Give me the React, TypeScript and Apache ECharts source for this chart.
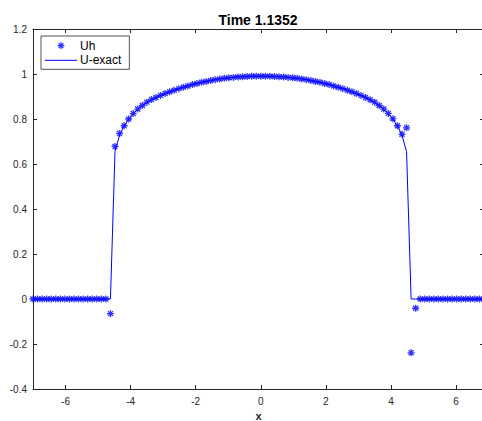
import React, { useEffect, useRef } from "react";
import * as echarts from "echarts";

const xNodes = [
  -7.0, -6.86, -6.72, -6.58, -6.44, -6.3, -6.16, -6.02, -5.88, -5.74,
  -5.6, -5.46, -5.32, -5.18, -5.04, -4.9, -4.76, -4.62, -4.48, -4.34,
  -4.2, -4.06, -3.92, -3.78, -3.64, -3.5, -3.36, -3.22, -3.08, -2.94,
  -2.8, -2.66, -2.52, -2.38, -2.24, -2.1, -1.96, -1.82, -1.68, -1.54,
  -1.4, -1.26, -1.12, -0.98, -0.84, -0.7, -0.56, -0.42, -0.28, -0.14,
  0.0, 0.14, 0.28, 0.42, 0.56, 0.7, 0.84, 0.98, 1.12, 1.26,
  1.4, 1.54, 1.68, 1.82, 1.96, 2.1, 2.24, 2.38, 2.52, 2.66,
  2.8, 2.94, 3.08, 3.22, 3.36, 3.5, 3.64, 3.78, 3.92, 4.06,
  4.2, 4.34, 4.48, 4.62, 4.76, 4.9, 5.04, 5.18, 5.32, 5.46,
  5.6, 5.74, 5.88, 6.02, 6.16, 6.3, 6.44, 6.58, 6.72, 6.86,
];

const uhValues = [
  0, 0, 0, 0, 0, 0, 0, 0, 0, 0,
  0, 0, 0, 0, 0, 0, 0, -0.065, 0.678, 0.736,
  0.77, 0.8, 0.824, 0.844, 0.86, 0.875, 0.887, 0.896, 0.905, 0.913,
  0.921, 0.928, 0.935, 0.941, 0.947, 0.953, 0.958, 0.963, 0.967, 0.971,
  0.975, 0.978, 0.981, 0.983, 0.985, 0.987, 0.988, 0.989, 0.99, 0.99,
  0.99, 0.99, 0.99, 0.989, 0.988, 0.987, 0.985, 0.983, 0.981, 0.978,
  0.975, 0.971, 0.967, 0.963, 0.958, 0.953, 0.947, 0.941, 0.935, 0.928,
  0.921, 0.913, 0.905, 0.896, 0.886, 0.875, 0.86, 0.844, 0.825, 0.801,
  0.77, 0.732, 0.761, -0.239, -0.041, 0, 0, 0, 0, 0,
  0, 0, 0, 0, 0, 0, 0, 0, 0, 0,
];

const exactValues = [
  0, 0, 0, 0, 0, 0, 0, 0, 0, 0,
  0, 0, 0, 0, 0, 0, 0, 0, 0.655, 0.728,
  0.769, 0.799, 0.823, 0.843, 0.859, 0.873, 0.885, 0.895, 0.904, 0.913,
  0.921, 0.928, 0.935, 0.941, 0.947, 0.953, 0.958, 0.963, 0.967, 0.971,
  0.975, 0.978, 0.981, 0.983, 0.985, 0.987, 0.988, 0.989, 0.99, 0.99,
  0.99, 0.99, 0.99, 0.989, 0.988, 0.987, 0.985, 0.983, 0.981, 0.978,
  0.975, 0.971, 0.967, 0.963, 0.958, 0.953, 0.947, 0.941, 0.935, 0.928,
  0.921, 0.913, 0.904, 0.895, 0.885, 0.873, 0.859, 0.843, 0.823, 0.799,
  0.769, 0.728, 0.655, 0, 0, 0, 0, 0, 0, 0,
  0, 0, 0, 0, 0, 0, 0, 0, 0, 0,
];

const xTickValues = [-6, -4, -2, 0, 2, 4, 6];
const titleText = "Time 1.1352";
const xLabelText = "x";
const seriesNames = ["Uh", "U-exact"];

const AXIS_COLOR = "#262626";
const BLUE = "#0000ff";
const FONT = "Liberation Sans, Arial, Helvetica, sans-serif";
const STAR = "path://M-1 0L1 0M0 -1L0 1M-0.72 -0.72L0.72 0.72M-0.72 0.72L0.72 -0.72";
const LEGEND_STAR = "path://M-1.75 -1.75M1.75 1.75M-1 0L1 0M0 -1L0 1M-0.72 -0.72L0.72 0.72M-0.72 0.72L0.72 -0.72";
const LEGEND_LINE = "path://M0 0L32 0L32 1L0 1Z";

export default function App() {
  const ref = useRef<HTMLDivElement>(null);
  useEffect(() => {
    if (!ref.current) return;
    const chart = echarts.init(ref.current, null, { renderer: "svg" });
    const uhData = xNodes.map((x, i) => [x, uhValues[i]]);
    const exData = xNodes.map((x, i) => [x, exactValues[i]]);
    chart.setOption({
      animation: false,
      backgroundColor: "#ffffff",
      title: {
        text: titleText,
        left: 258,
        top: 13,
        padding: 0,
        textAlign: "center",
        textStyle: { fontFamily: FONT, fontSize: 14, fontWeight: "bold", color: "#000000" },
      },
      legend: {
        orient: "vertical",
        left: 41,
        top: 36,
        padding: [3, 8, 3, 4],
        itemGap: 2,
        itemWidth: 32,
        itemHeight: 12,
        symbolKeepAspect: true,
        backgroundColor: "#ffffff",
        borderColor: AXIS_COLOR,
        borderWidth: 0.8,
        borderRadius: 0,
        textStyle: { fontFamily: FONT, fontSize: 12, color: "#000000", padding: [0, 0, 0, -2] },
        data: [
          { name: seriesNames[0], icon: LEGEND_STAR, itemStyle: { color: "rgba(0,0,0,0)", borderColor: BLUE, borderWidth: 1.3 } },
          { name: seriesNames[1], icon: LEGEND_LINE, itemStyle: { color: BLUE, borderWidth: 0 } },
        ],
      },
      grid: { left: 33, top: 29, right: 2, bottom: 32, containLabel: false, outerBoundsMode: "none" },
      xAxis: [
        {
          type: "value",
          min: -7,
          max: 6.86,
          position: "bottom",
          name: xLabelText,
          nameLocation: "middle",
          nameGap: 18,
          nameTextStyle: { fontFamily: FONT, fontSize: 11, fontWeight: "bold", color: AXIS_COLOR },
          axisLine: { show: true, onZero: false, lineStyle: { color: AXIS_COLOR, width: 1 } },
          axisTick: { show: true, inside: true, length: 4, customValues: xTickValues, lineStyle: { color: AXIS_COLOR } },
          axisLabel: { show: true, customValues: xTickValues, margin: 7, fontFamily: FONT, fontSize: 10, color: AXIS_COLOR },
          splitLine: { show: false },
        },
        {
          type: "value",
          min: -7,
          max: 6.86,
          position: "top",
          axisLine: { show: true, onZero: false, lineStyle: { color: AXIS_COLOR, width: 1 } },
          axisTick: { show: true, inside: true, length: 4, customValues: xTickValues, lineStyle: { color: AXIS_COLOR } },
          axisLabel: { show: false },
          splitLine: { show: false },
        },
      ],
      yAxis: [
        {
          type: "value",
          min: -0.4,
          max: 1.2,
          interval: 0.2,
          position: "left",
          axisLine: { show: true, onZero: false, lineStyle: { color: AXIS_COLOR, width: 1 } },
          axisTick: { show: true, inside: true, length: 4, lineStyle: { color: AXIS_COLOR } },
          axisLabel: { show: true, margin: 6, fontFamily: FONT, fontSize: 10, color: AXIS_COLOR },
          splitLine: { show: false },
        },
        {
          type: "value",
          min: -0.4,
          max: 1.2,
          interval: 0.2,
          position: "right",
          axisLine: { show: true, onZero: false, lineStyle: { color: AXIS_COLOR, width: 1 } },
          axisTick: { show: true, inside: true, length: 4, lineStyle: { color: AXIS_COLOR } },
          axisLabel: { show: false },
          splitLine: { show: false },
        },
      ],
      series: [
        {
          name: seriesNames[0],
          type: "scatter",
          xAxisIndex: 0,
          yAxisIndex: 0,
          symbol: STAR,
          symbolSize: 7,
          itemStyle: { color: "rgba(0,0,0,0)", borderColor: BLUE, borderWidth: 1.3 },
          data: uhData,
          z: 3,
        },
        {
          name: seriesNames[1],
          type: "line",
          xAxisIndex: 0,
          yAxisIndex: 0,
          showSymbol: false,
          symbol: "none",
          lineStyle: { color: BLUE, width: 1 },
          itemStyle: { color: BLUE },
          data: exData,
          z: 2,
        },
      ],
    });
    return () => chart.dispose();
  }, []);
  return (
    <div style={{ position: "fixed", left: 0, top: 0, width: 482, height: 421, overflow: "hidden", background: "#fff" }}>
      <div ref={ref} style={{ width: 486, height: 421 }} />
    </div>
  );
}
